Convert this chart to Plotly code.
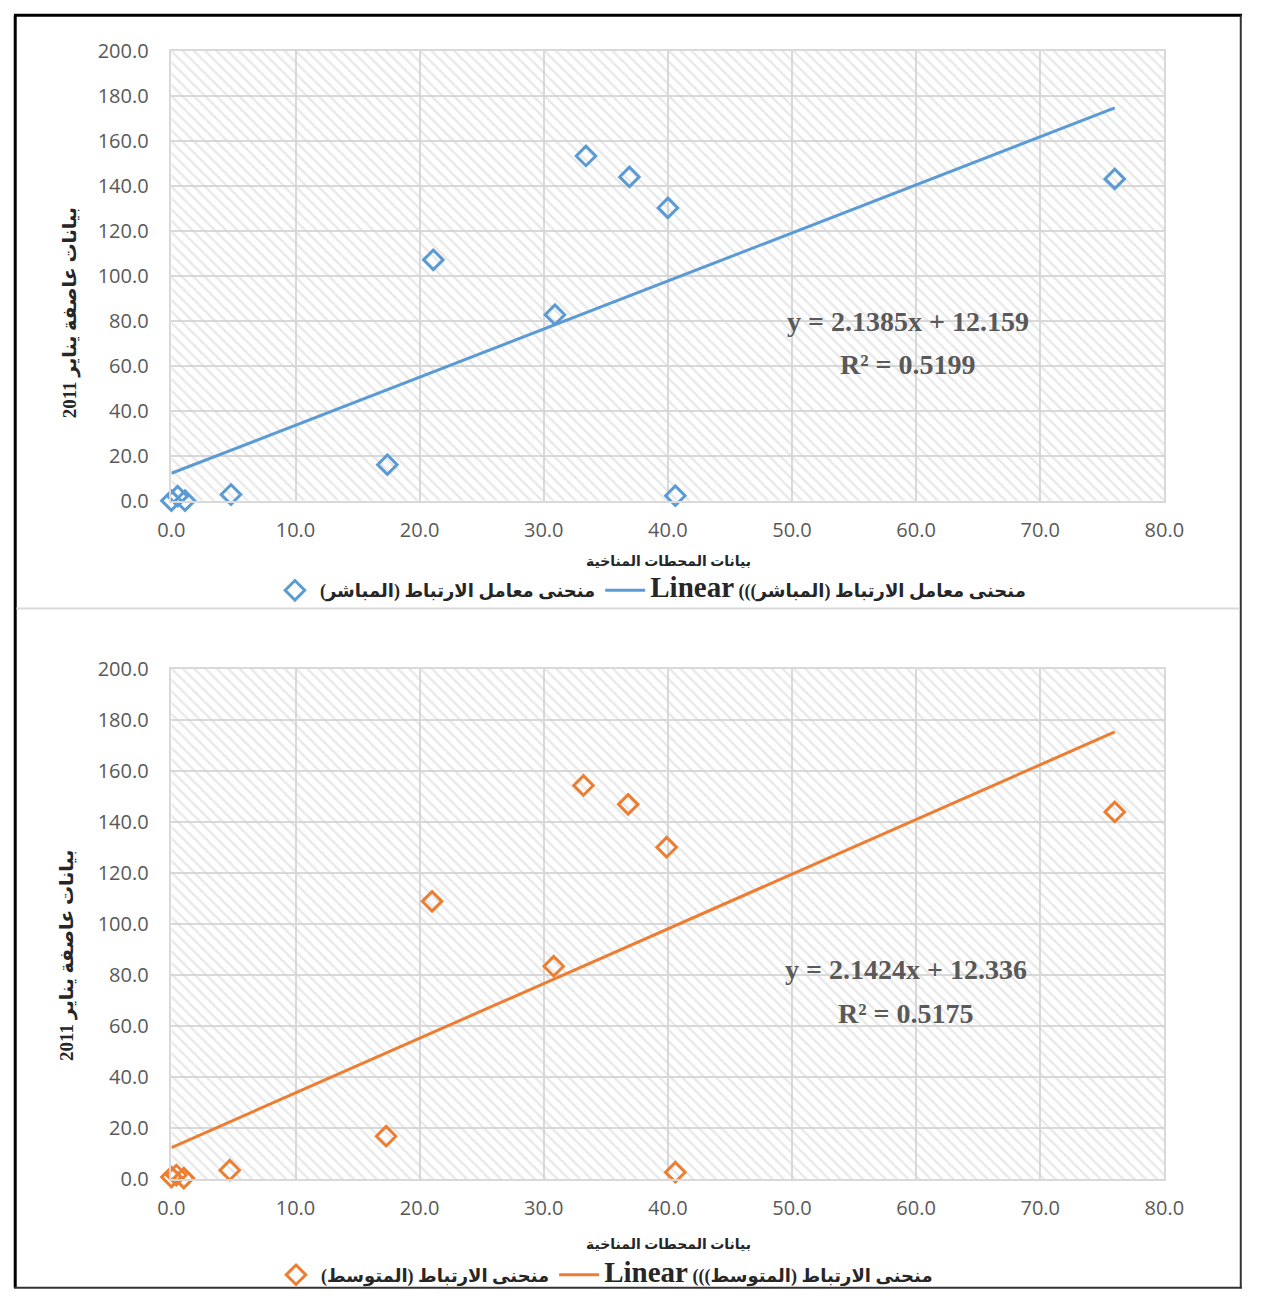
import plotly.graph_objects as go

W, H = 1262, 1302

# ---------------- data ----------------
x_top = [0.0, 0.5, 1.1, 4.8, 17.4, 21.1, 30.9, 33.4, 36.9, 40.0, 40.6, 76.0]
y_top = [0.0, 2.0, 0.0, 2.7, 16.0, 107.1, 82.7, 153.3, 144.0, 130.2, 2.2, 143.1]
x_bot = [0.0, 0.4, 1.0, 4.7, 17.3, 21.0, 30.8, 33.2, 36.8, 39.9, 40.6, 76.0]
y_bot = [0.8, 1.6, 0.4, 3.5, 16.8, 108.8, 83.4, 154.2, 146.8, 130.0, 2.7, 143.8]

slope_top, icpt_top, r2_top = 2.1385, 12.159, 0.5199
slope_bot, icpt_bot, r2_bot = 2.1424, 12.336, 0.5175

x_ticks = [0, 10, 20, 30, 40, 50, 60, 70, 80]
y_ticks = [0, 20, 40, 60, 80, 100, 120, 140, 160, 180, 200]

name_top = "منحنى معامل الارتباط (المباشر)"
name_bot = "منحنى الارتباط (المتوسط)"
x_title = "بيانات المحطات المناخية"
y_title = "بيانات عاصفة يناير 2011"

BLUE = "#5B9BD5"
ORANGE = "#ED7D31"
GRID = "#d9d9d9"
TXT = "#595959"

RLE, PDF = "\u202B", "\u202C"

# mapping from target picture pixels to figure pixels (compensates page framing)
SX, CX = 0.975, 12.3
SY, CY = 0.98, 13.0

def px_x(p):
    v = (p - CX) / SX / W
    return min(max(v, 0.0), 1.0)

def px_y(p):
    v = (p - CY) / SY / H
    return 1 - min(max(v, 0.0), 1.0)

fig = go.Figure()

panels = [
    dict(xa="x", ya="y", xs=x_top, ys=y_top, slope=slope_top, icpt=icpt_top, r2=r2_top,
         color=BLUE, name=name_top, legend="legend"),
    dict(xa="x2", ya="y2", xs=x_bot, ys=y_bot, slope=slope_bot, icpt=icpt_bot, r2=r2_bot,
         color=ORANGE, name=name_bot, legend="legend2"),
]

xr = [x_ticks[0], x_ticks[-1]]
yr = [y_ticks[0], y_ticks[-1]]

for p in panels:
    # hatched plot-area background
    fig.add_trace(go.Scatter(
        x=[xr[0], xr[1], xr[1], xr[0], xr[0]],
        y=[yr[0], yr[0], yr[1], yr[1], yr[0]],
        xaxis=p["xa"], yaxis=p["ya"], mode="lines", line=dict(width=0),
        fill="toself", fillcolor="rgba(0,0,0,0)",
        fillpattern=dict(shape="\\", fgcolor="#d2d2d2", bgcolor="rgba(0,0,0,0)",
                         size=8, solidity=0.3),
        showlegend=False, hoverinfo="skip"))
    fig.add_trace(go.Scatter(
        x=p["xs"], y=p["ys"], xaxis=p["xa"], yaxis=p["ya"], mode="markers",
        marker=dict(symbol="diamond-open", size=15, color=p["color"],
                    line=dict(width=3, color=p["color"])),
        name=RLE + p["name"] + PDF, legend=p["legend"], cliponaxis=False))
    tx = [0, max(p["xs"])]
    ty = [p["slope"] * v + p["icpt"] for v in tx]
    fig.add_trace(go.Scatter(
        x=tx, y=ty, xaxis=p["xa"], yaxis=p["ya"], mode="lines",
        line=dict(color=p["color"], width=3),
        name="<span style='font-size:29px'>Linear</span> " + RLE + p["name"] + "))" + PDF,
        legend=p["legend"]))

axis_common = dict(showgrid=True, gridcolor=GRID, gridwidth=1.5, zeroline=False,
                   showline=True, linecolor=GRID, linewidth=1.5, mirror=True,
                   tickfont=dict(family="Open Sans, Lato, sans-serif", size=20, color=TXT),
                   ticks="", tickformat=".1f")

leg_font = dict(family="Liberation Serif, DejaVu Sans, serif", size=18, color="#262626",
                weight="bold")

x_dom = [px_x(170), px_x(1165)]
fig.update_layout(
    width=W, height=H, margin=dict(l=0, r=0, t=0, b=0),
    paper_bgcolor="white", plot_bgcolor="white",
    xaxis=dict(domain=x_dom, anchor="y", range=xr, tickvals=x_ticks,
               ticklabelstandoff=11, **axis_common),
    yaxis=dict(domain=[px_y(500), px_y(50)], anchor="x", range=yr, tickvals=y_ticks,
               ticklabelstandoff=17, **axis_common),
    xaxis2=dict(domain=x_dom, anchor="y2", range=xr, tickvals=x_ticks,
                ticklabelstandoff=10, **axis_common),
    yaxis2=dict(domain=[px_y(1179), px_y(668)], anchor="x2", range=yr, tickvals=y_ticks,
                ticklabelstandoff=17, **axis_common),
    legend=dict(orientation="h", x=px_x(650), y=px_y(590), xanchor="center", yanchor="middle",
                font=leg_font, bgcolor="rgba(0,0,0,0)", itemwidth=40),
    legend2=dict(orientation="h", x=px_x(604), y=px_y(1275), xanchor="center", yanchor="middle",
                 font=leg_font, bgcolor="rgba(0,0,0,0)", itemwidth=40),
    showlegend=True,
)

ann = []
title_font = dict(family="Liberation Serif, DejaVu Sans, serif", size=14, color="#262626", weight="bold")
ytitle_font = dict(family="Liberation Serif, DejaVu Sans, serif", size=19, color="#262626", weight="bold")
eq_font = dict(family="Liberation Serif, serif", size=28, color=TXT, weight="bold")
for p, xt_y, yt_x, yt_y, eq_x, eq_y1, eq_y2 in [
    (panels[0], 561, 68, 312, 908, 321, 364),
    (panels[1], 1244, 66, 955, 906, 969, 1013),
]:
    ann.append(dict(xref="paper", yref="paper", x=px_x(668), y=px_y(xt_y), text=x_title,
                    showarrow=False, font=title_font, xanchor="center", yanchor="middle"))
    ann.append(dict(xref="paper", yref="paper", x=px_x(yt_x), y=px_y(yt_y), text=y_title,
                    showarrow=False, font=ytitle_font, textangle=-90,
                    xanchor="center", yanchor="middle"))
    ann.append(dict(xref="paper", yref="paper", x=px_x(eq_x), y=px_y(eq_y1),
                    text=f"y = {p['slope']}x + {p['icpt']}", showarrow=False, font=eq_font,
                    xanchor="center", yanchor="middle"))
    ann.append(dict(xref="paper", yref="paper", x=px_x(eq_x), y=px_y(eq_y2),
                    text=f"R² = {p['r2']}", showarrow=False, font=eq_font,
                    xanchor="center", yanchor="middle"))
fig.update_layout(annotations=ann)

xl, xrr = 0.001, 0.999
yb, yt = 0.001, 0.999
shapes = [
    dict(type="line", xref="paper", yref="paper", x0=xl, x1=xl, y0=yb, y1=yt,
         line=dict(color="black", width=3)),
    dict(type="line", xref="paper", yref="paper", x0=0, x1=1, y0=yt, y1=yt,
         line=dict(color="black", width=3)),
    dict(type="line", xref="paper", yref="paper", x0=xrr, x1=xrr, y0=yb, y1=yt,
         line=dict(color="#333333", width=2)),
    dict(type="line", xref="paper", yref="paper", x0=0, x1=1, y0=yb, y1=yb,
         line=dict(color="#333333", width=2)),
    dict(type="line", xref="paper", yref="paper", x0=0.002, x1=0.998, y0=px_y(608), y1=px_y(608),
         line=dict(color=GRID, width=2)),
]
fig.update_layout(shapes=shapes)

fig.write_html("out.html", config={"displayModeBar": False},
               post_script="document.body.style.margin='0';document.body.style.overflow='hidden';")
